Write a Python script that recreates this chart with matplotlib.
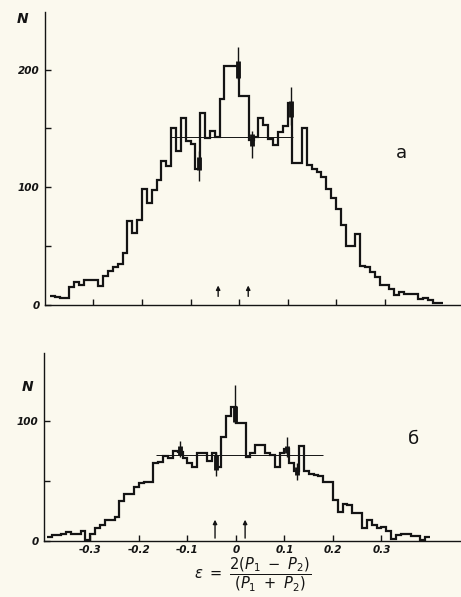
import matplotlib.pyplot as plt
import numpy as np

# --- data ------------------------------------------------------------
bin_width = 0.01

# panel a: counts per bin, first bin starts at -0.39
a_start = -0.39
a_counts = [8, 7, 6, 6, 15, 20, 17, 21, 21, 21,
            16, 25, 29, 32, 35, 44, 71, 61, 72, 99,
            87, 98, 106, 122, 118, 150, 131, 159, 139, 137,
            116, 163, 142, 148, 143, 175, 203, 203, 203, 178,
            178, 140, 143, 159, 153, 141, 136, 147, 152, 172,
            121, 121, 150, 119, 116, 113, 109, 99, 91, 82,
            68, 50, 50, 60, 33, 32, 28, 24, 17, 17,
            14, 8.5, 11, 9.5, 9, 9, 5, 6, 4, 2, 2]
a_err_x = [-0.083, -0.003, 0.027, 0.108]
a_err_lo = [105, 192, 125, 153]
a_err_hi = [131, 219, 148, 185]
a_box_lo = [115, 193, 135, 160]
a_box_hi = [126, 207, 145, 173]
a_level = 143
a_level_span = [-0.14, 0.111]

# panel б
b_start = -0.39
b_counts = [3, 5, 5, 6, 7, 5.5, 5.5, 8.6, 1, 6,
            10.5, 13, 17.5, 17.5, 20, 33, 39, 39, 45, 48,
            49, 49, 65, 66, 71, 69, 75, 74, 69, 65,
            62, 73, 73, 67, 73, 62, 87, 104, 112, 98,
            98, 70, 73, 80, 80, 73, 72, 62, 73, 77,
            65, 58, 79, 58, 56, 55, 54, 49, 49, 34,
            24, 31, 30, 23, 23, 10.5, 17.5, 13, 10.5, 12,
            8, 1.5, 5, 6, 5.5, 4, 4, 1, 3.6]
b_err_x = [-0.115, -0.042, -0.002, 0.106, 0.125]
b_err_lo = [70, 54, 98, 70, 51]
b_err_hi = [83, 74, 130, 87, 65]
b_box_lo = [72, 59, 99, 73, 55]
b_box_hi = [79, 72, 113, 79, 62]
b_level = 72
b_level_span = [-0.164, 0.18]

arrow_x = [-0.043, 0.019]
x_ticks = [-0.3, -0.2, -0.1, 0, 0.1, 0.2, 0.3]
x_tick_labels = ['-0.3', '-0.2', '-0.1', '0', '0.1', '0.2', '0.3']

paper = '#fbf9ee'
ink = '#141414'

fig = plt.figure(figsize=(4.61, 5.97), dpi=100, facecolor=paper)
ax_a = fig.add_axes([0.0976, 0.489, 0.9024, 0.491])
ax_b = fig.add_axes([0.096, 0.094, 0.904, 0.315])


def draw_panel(ax, start, counts, err_x, err_lo, err_hi, box_lo, box_hi,
               level, level_span, ymax, xlim, yticks, ylabels, arrow_y,
               n_pos):
    ax.set_facecolor(paper)
    edges = start + bin_width * np.arange(len(counts) + 1)
    ax.stairs(counts, edges, color=ink, lw=1.6, baseline=None)
    ax.hlines(level, level_span[0], level_span[1], color=ink, lw=0.7)
    ax.vlines(err_x, err_lo, err_hi, color=ink, lw=1.0)
    ax.vlines(err_x, box_lo, box_hi, color=ink, lw=3.5)
    for x in arrow_x:
        ax.annotate('', xy=(x, arrow_y[1]), xytext=(x, arrow_y[0]),
                    arrowprops=dict(arrowstyle='-|>', color=ink, lw=1.0,
                                    mutation_scale=6))
    ax.set_xlim(*xlim)
    ax.set_ylim(0, ymax)
    for s in ['top', 'right']:
        ax.spines[s].set_visible(False)
    for s in ['left', 'bottom']:
        ax.spines[s].set_color(ink)
        ax.spines[s].set_linewidth(1.0)
    ax.set_yticks(yticks)
    ax.set_yticklabels(ylabels, fontsize=7.5, fontweight='bold',
                       fontstyle='italic', color=ink)
    ax.tick_params(axis='y', direction='in', length=4, width=1.0, pad=4,
                   colors=ink)
    ax.tick_params(axis='x', direction='in', length=4, width=1.0, colors=ink)
    ax.text(n_pos[0], n_pos[1], 'N', transform=ax.transAxes,
            fontsize=10, fontweight='bold', fontstyle='italic', color=ink,
            ha='center', va='center')


draw_panel(ax_a, a_start, a_counts, a_err_x, a_err_lo, a_err_hi,
           a_box_lo, a_box_hi, a_level, a_level_span, 249, (-0.40, 0.4577),
           [0, 50, 100, 150, 200], ['0', '', '100', '', '200'], (5, 19),
           (-0.055, 0.975))
ax_a.set_xticks(x_ticks)
ax_a.set_xticklabels([])
ax_a.text(0.858, 0.52, 'a', transform=ax_a.transAxes, fontsize=13, color=ink,
          ha='center', va='center')

draw_panel(ax_b, b_start, b_counts, b_err_x, b_err_lo, b_err_hi,
           b_box_lo, b_box_hi, b_level, b_level_span, 157, (-0.395, 0.464),
           [0, 50, 100], ['0', '', '100'], (0, 20), (-0.04, 0.82))
ax_b.set_xticks(x_ticks)
ax_b.set_xticklabels(x_tick_labels, fontsize=7.5, fontweight='bold',
                     fontstyle='italic', color=ink)
ax_b.tick_params(axis='x', pad=3)
ax_b.text(0.885, 0.54, 'б', transform=ax_b.transAxes, fontsize=13, color=ink,
          ha='center', va='center')
ax_b.set_xlabel(r'$\varepsilon\ =\ \dfrac{2(P_1\ -\ P_2)}{(P_1\ +\ P_2)}$',
                fontsize=10.5, color=ink, labelpad=0)

fig.savefig('out.png', dpi=100, facecolor=paper)
